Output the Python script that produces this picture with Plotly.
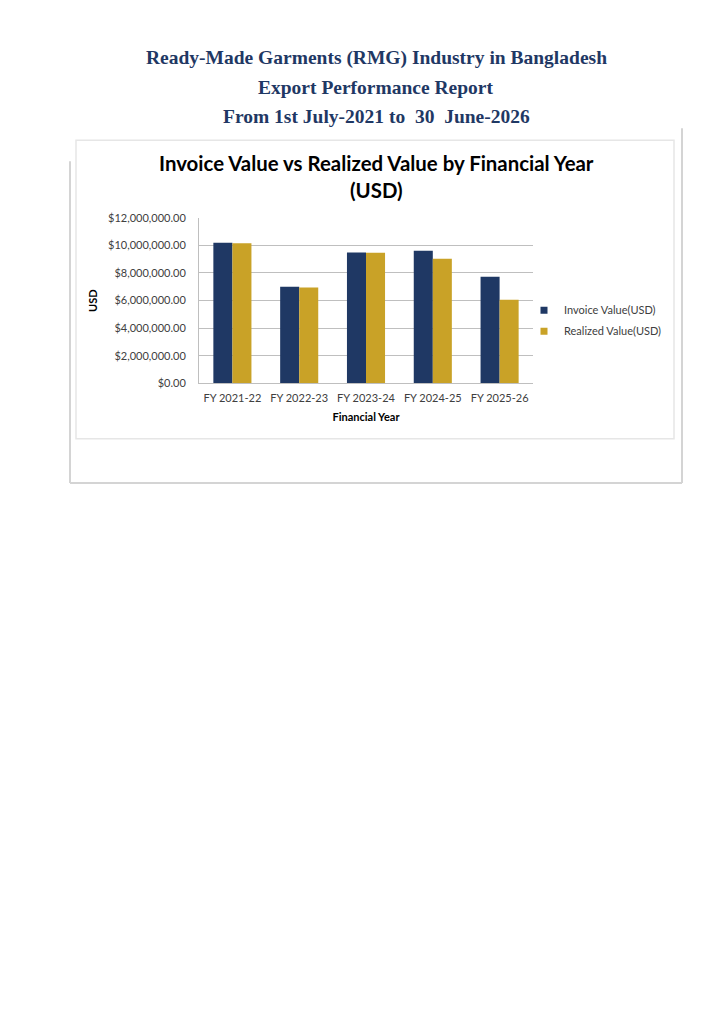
#!/usr/bin/env python3
"""
RMG export performance: invoice vs realized value by financial year.
"""

import plotly.graph_objects as go

# page is 724x1024 but the html body has an 8px margin, so the figure is a bit smaller
PAGE_OFF = 8
W, H = 724 - 2 * PAGE_OFF, 1024 - 2 * PAGE_OFF

# data
years = ["FY 2021-22", "FY 2022-23", "FY 2023-24", "FY 2024-25", "FY 2025-26"]
invoice_usd = [10190000, 7000000, 9480000, 9610000, 7720000]
realized_usd = [10160000, 6950000, 9460000, 9030000, 6070000]
y_ticks = [0, 2000000, 4000000, 6000000, 8000000, 10000000, 12000000]
y_tick_text = ["$0.00", "$2,000,000.00", "$4,000,000.00", "$6,000,000.00",
               "$8,000,000.00", "$10,000,000.00", "$12,000,000.00"]

NAVY = "#1F3864"
GOLD = "#C9A227"


def px_x(x):
    # page pixel -> paper fraction
    return (x - PAGE_OFF) / W


def px_y(y):
    # small vertical squeeze seen in the screenshot, anchored at the frame bottom
    y = y - 0.0147 * (482 - y)
    return 1 - (y - PAGE_OFF) / H


fig = go.Figure()
fig.add_trace(go.Bar(x=years, y=invoice_usd, name="Invoice Value(USD)",
                     marker=dict(color=NAVY, line=dict(width=0)), showlegend=False))
fig.add_trace(go.Bar(x=years, y=realized_usd, name="Realized Value(USD)",
                     marker=dict(color=GOLD, line=dict(width=0)), showlegend=False))

# legend entries with the small square keys of the original
for name, col in [("Invoice Value(USD)", NAVY), ("Realized Value(USD)", GOLD)]:
    fig.add_trace(go.Scatter(x=[None], y=[None], mode="markers", name=name, legendgroup=name,
                             marker=dict(symbol="square", size=7, color=col)))

# report header + chart title
header = [
    ("Ready-Made Garments (RMG) Industry in Bangladesh", 58),
    ("Export Performance Report", 87),
    ("From 1st July-2021 to  30  June-2026", 116),
]
annotations = []
for txt, yy in header:
    annotations.append(dict(
        text=txt, x=px_x(376), y=px_y(yy), xref="paper", yref="paper",
        xanchor="center", yanchor="middle", showarrow=False,
        font=dict(family="Liberation Serif", size=19.5, color=NAVY, weight="bold")))
for txt, yy in [("Invoice Value vs Realized Value by Financial Year", 163), ("(USD)", 190)]:
    annotations.append(dict(
        text=txt, x=px_x(376), y=px_y(yy), xref="paper", yref="paper",
        xanchor="center", yanchor="middle", showarrow=False,
        font=dict(family="Lato", size=20.4, color="#000000", weight="bold")))

# frames around the chart (outer shadow box + inner chart area)
shapes = [
    dict(type="rect", xref="paper", yref="paper",
         x0=px_x(76), x1=px_x(674), y0=px_y(438), y1=px_y(140),
         line=dict(color="#E6E6E6", width=1.5), fillcolor="rgba(0,0,0,0)", layer="below"),
    dict(type="line", xref="paper", yref="paper",
         x0=px_x(70), x1=px_x(70), y0=px_y(482), y1=px_y(161),
         line=dict(color="#D4D4D4", width=2)),
    dict(type="line", xref="paper", yref="paper",
         x0=px_x(70), x1=px_x(682), y0=px_y(482), y1=px_y(482),
         line=dict(color="#D4D4D4", width=2)),
    dict(type="line", xref="paper", yref="paper",
         x0=px_x(682), x1=px_x(682), y0=px_y(482), y1=px_y(128),
         line=dict(color="#D4D4D4", width=2)),
]

fig.update_layout(
    width=W, height=H,
    margin=dict(l=0, r=0, t=0, b=0),
    paper_bgcolor="white", plot_bgcolor="white",
    barmode="group", bargap=0.43, bargroupgap=0,
    font=dict(family="Lato", size=11, color="#404040"),
    annotations=annotations, shapes=shapes,
    legend=dict(x=px_x(524), y=px_y(320), xanchor="left", yanchor="middle",
                font=dict(size=11, color="#404040"), bgcolor="rgba(0,0,0,0)",
                itemwidth=30, tracegroupgap=2),
    showlegend=True,
)
fig.update_xaxes(
    domain=[px_x(199), px_x(533)],
    anchor="y",
    showline=True, linecolor="#BFBFBF", linewidth=1,
    ticks="", ticklabelstandoff=4, tickfont=dict(size=11, color="#404040"),
    title=dict(text="Financial Year", font=dict(size=11, color="#000000", weight="bold"), standoff=10),
)
fig.update_yaxes(
    domain=[px_y(382.7), px_y(217.3)],
    range=[0, 12000000],
    tickvals=y_ticks, ticktext=y_tick_text,
    showline=True, linecolor="#BFBFBF", linewidth=1,
    showgrid=True, gridcolor="#BFBFBF", gridwidth=1,
    zeroline=False, ticks="", ticklabelstandoff=10,
    tickfont=dict(size=11, color="#404040"),
    title=dict(text="USD", font=dict(size=11, color="#000000", weight="bold"), standoff=8),
)

fig.write_html("out.html")
